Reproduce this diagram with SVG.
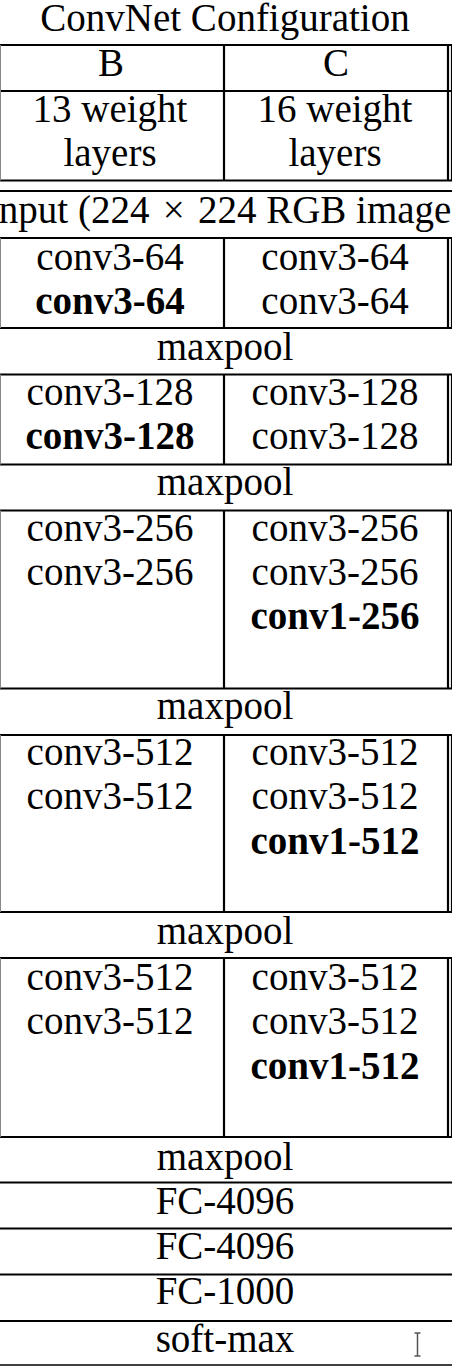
<svg xmlns="http://www.w3.org/2000/svg" width="452" height="1366" viewBox="0 0 452 1366">
<style>
text{font-family:"Liberation Serif","Times New Roman",serif;font-size:39px;fill:#000;text-anchor:middle}
.b{font-weight:bold}
.h{stroke:#000;stroke-width:2.2}
.v{stroke:#000;stroke-width:2.2}
.g{stroke:#888;stroke-width:1}
</style>
<rect width="452" height="1366" fill="#fff"/>
<g id="grid">
<line class="h" x1="0" y1="45" x2="452" y2="45"/>
<line class="h" x1="0" y1="91" x2="452" y2="91"/>
<line class="h" x1="0" y1="180.5" x2="452" y2="180.5"/>
<line class="h" x1="0" y1="191" x2="452" y2="191"/>
<line class="h" x1="0" y1="238" x2="452" y2="238"/>
<line class="h" x1="0" y1="328" x2="452" y2="328"/>
<line class="h" x1="0" y1="374.5" x2="452" y2="374.5"/>
<line class="h" x1="0" y1="464.5" x2="452" y2="464.5"/>
<line class="h" x1="0" y1="510.5" x2="452" y2="510.5"/>
<line class="h" x1="0" y1="688.5" x2="452" y2="688.5"/>
<line class="h" x1="0" y1="735" x2="452" y2="735"/>
<line class="h" x1="0" y1="912" x2="452" y2="912"/>
<line class="h" x1="0" y1="958" x2="452" y2="958"/>
<line class="h" x1="0" y1="1137" x2="452" y2="1137"/>
<line class="h" x1="0" y1="1182.5" x2="452" y2="1182.5"/>
<line class="h" x1="0" y1="1228.5" x2="452" y2="1228.5"/>
<line class="h" x1="0" y1="1274.5" x2="452" y2="1274.5"/>
<line class="h" x1="0" y1="1321" x2="452" y2="1321"/>
<line class="h" x1="0" y1="1365" x2="452" y2="1365" style="stroke-width:1.5"/>
<path class="v" d="M224 45V180.5M224 238V328M224 374.5V464.5M224 510.5V688.5M224 735V912M224 958V1137"/>
<path class="v" d="M448 45V180.5M448 238V328M448 374.5V464.5M448 510.5V688.5M448 735V912M448 958V1137"/>
<path class="v" style="stroke-width:1.2" d="M451.5 45V180.5M451.5 238V328M451.5 374.5V464.5M451.5 510.5V688.5M451.5 735V912M451.5 958V1137"/>
<path class="g" d="M0.5 45V180.5M0.5 238V328M0.5 374.5V464.5M0.5 510.5V688.5M0.5 735V912M0.5 958V1137"/>
</g>
<g id="title"><text x="225" y="31">ConvNet Configuration</text></g>
<g id="colB"><text x="111" y="76">B</text></g>
<g id="colC"><text x="336" y="76">C</text></g>
<g id="weightsB"><text x="110" y="122">13 weight</text><text x="110" y="166">layers</text></g>
<g id="weightsC"><text x="335" y="122">16 weight</text><text x="335" y="166">layers</text></g>
<g id="input"><text x="-12" y="223" style="text-anchor:start">input (224 <tspan dx="3.5">×</tspan> <tspan dx="3.5">224 RGB image)</tspan></text></g>
<g id="block1B"><text x="110" y="269.5">conv3-64</text><text class="b" x="110" y="313.5">conv3-64</text></g>
<g id="block1C"><text x="335" y="269.5">conv3-64</text><text x="335" y="313.5">conv3-64</text></g>
<g id="pool1"><text x="225" y="359.5">maxpool</text></g>
<g id="block2B"><text x="110" y="405">conv3-128</text><text class="b" x="110" y="449">conv3-128</text></g>
<g id="block2C"><text x="335" y="405">conv3-128</text><text x="335" y="449">conv3-128</text></g>
<g id="pool2"><text x="225" y="495">maxpool</text></g>
<g id="block3B"><text x="110" y="541">conv3-256</text><text x="110" y="585">conv3-256</text></g>
<g id="block3C"><text x="335" y="541">conv3-256</text><text x="335" y="585">conv3-256</text><text class="b" x="335" y="629">conv1-256</text></g>
<g id="pool3"><text x="225" y="718.5">maxpool</text></g>
<g id="block4B"><text x="110" y="765">conv3-512</text><text x="110" y="809">conv3-512</text></g>
<g id="block4C"><text x="335" y="765">conv3-512</text><text x="335" y="809">conv3-512</text><text class="b" x="335" y="853.5">conv1-512</text></g>
<g id="pool4"><text x="225" y="944">maxpool</text></g>
<g id="block5B"><text x="110" y="990">conv3-512</text><text x="110" y="1033.5">conv3-512</text></g>
<g id="block5C"><text x="335" y="990">conv3-512</text><text x="335" y="1033.5">conv3-512</text><text class="b" x="335" y="1078.5">conv1-512</text></g>
<g id="pool5"><text x="225" y="1169.5">maxpool</text></g>
<g id="fc1"><text x="225" y="1213.5">FC-4096</text></g>
<g id="fc2"><text x="225" y="1258.5">FC-4096</text></g>
<g id="fc3"><text x="225" y="1304">FC-1000</text></g>
<g id="softmax"><text x="225" y="1351.5">soft-max</text></g>
<g id="cursor">
<path d="M414.5 1333H420.5M417.5 1333V1356M414.5 1356H420.5" stroke="#fff" stroke-width="3.5" fill="none"/>
<path d="M414.5 1333H420.5M417.5 1333V1356M414.5 1356H420.5" stroke="#555" stroke-width="1.5" fill="none"/>
</g>
</svg>
